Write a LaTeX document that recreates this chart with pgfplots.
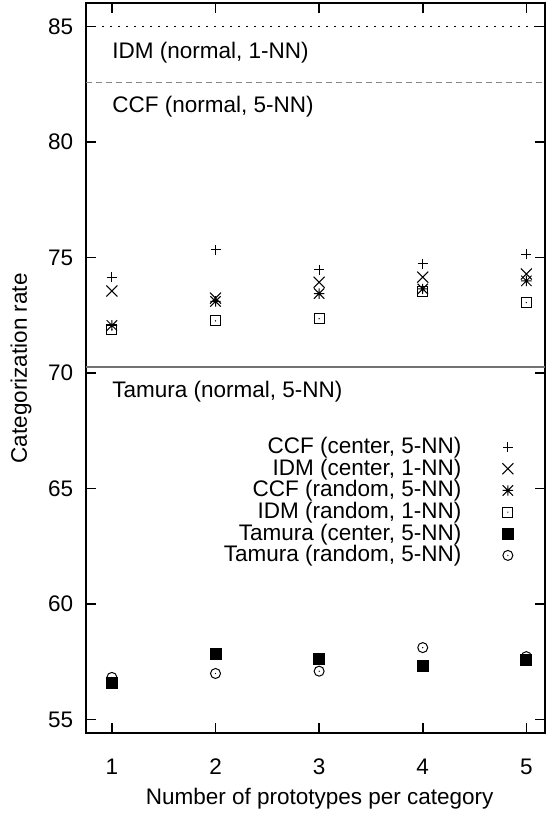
\documentclass[border=0pt]{standalone}
\usepackage{pgfplots}
\pgfplotsset{compat=1.18}
\usepackage{fontspec}
\setmainfont{Liberation Sans}

\pgfdeclareplotmark{gpstar}{%
  \pgfpathmoveto{\pgfqpoint{-\pgfplotmarksize}{0pt}}\pgfpathlineto{\pgfqpoint{\pgfplotmarksize}{0pt}}%
  \pgfpathmoveto{\pgfqpoint{0pt}{-\pgfplotmarksize}}\pgfpathlineto{\pgfqpoint{0pt}{\pgfplotmarksize}}%
  \pgfpathmoveto{\pgfqpoint{-\pgfplotmarksize}{-\pgfplotmarksize}}\pgfpathlineto{\pgfqpoint{\pgfplotmarksize}{\pgfplotmarksize}}%
  \pgfpathmoveto{\pgfqpoint{-\pgfplotmarksize}{\pgfplotmarksize}}\pgfpathlineto{\pgfqpoint{\pgfplotmarksize}{-\pgfplotmarksize}}%
  \pgfusepathqstroke}
\pgfdeclareplotmark{gpboxdot}{%
  \pgfpathrectangle{\pgfqpoint{-\pgfplotmarksize}{-\pgfplotmarksize}}{\pgfqpoint{2\pgfplotmarksize}{2\pgfplotmarksize}}%
  \pgfusepathqstroke
  \pgfpathcircle{\pgfpointorigin}{0.35pt}\pgfusepathqfill}
\pgfdeclareplotmark{gpcircdot}{%
  \pgfpathcircle{\pgfpointorigin}{\pgfplotmarksize}\pgfusepathqstroke
  \pgfpathcircle{\pgfpointorigin}{0.35pt}\pgfusepathqfill}

\begin{document}
\fontsize{11.25bp}{13.5bp}\selectfont
\begin{tikzpicture}
\begin{axis}[name=ax, scale only axis, width=229.5bp, height=364.9bp,
  xmin=0.75, xmax=5.18, ymin=54.4, ymax=86,
  xtick={1,2,3,4,5}, ytick={55,60,65,70,75,80,85},
  tick align=inside, major tick length=5bp,
  axis line style={line width=1bp},
  every tick/.style={black, line width=0.8bp},
  /pgf/number format/assume math mode=true,
  xticklabel style={yshift=-9bp},
  yticklabel style={xshift=-2.5bp},
  xlabel={Number of prototypes per category},
  ylabel={Categorization rate},
  every axis x label/.style={at={(axis description cs:0.509,-0.089)}, anchor=center},
  every axis y label/.style={at={(axis description cs:-0.1416,0.5)}, anchor=center, rotate=90},
  legend style={draw=none, fill=none, at={(rel axis cs:0.945,0.417)}, anchor=north east, row sep=-3bp, column sep=18.5bp},
  legend cell align=right, legend plot pos=right,
  every axis plot/.append style={black, mark options={solid, line width=0.5bp}},
]
\addplot[forget plot, dash pattern=on 1.2bp off 2.8bp, line width=0.6bp, black] coordinates {(0.75,85) (5.18,85)};
\addplot[forget plot, dash pattern=on 3bp off 2bp, line width=0.9bp, black!47] coordinates {(0.75,82.58) (5.18,82.58)};
\addplot[forget plot, solid, line width=1bp, black!55] coordinates {(0.75,70.25) (5.18,70.25)};

\addplot[only marks, mark=+, mark size=2.5bp] coordinates {(1,74.15)(2,75.33)(3,74.47)(4,74.73)(5,75.14)};
\addlegendentry{CCF (center, 5-NN)}
\addplot[only marks, mark=x, mark size=3.9bp] coordinates {(1,73.55)(2,73.24)(3,73.93)(4,74.15)(5,74.29)};
\addlegendentry{IDM (center, 1-NN)}
\addplot[only marks, mark=gpstar, mark size=2.6bp] coordinates {(1,72.06)(2,73.10)(3,73.44)(4,73.64)(5,73.99)};
\addlegendentry{CCF (random, 5-NN)}
\addplot[only marks, mark=gpboxdot, mark size=2.5bp] coordinates {(1,71.87)(2,72.26)(3,72.35)(4,73.53)(5,73.05)};
\addlegendentry{IDM (random, 1-NN)}
\addplot[only marks, mark=square*, mark size=2.75bp] coordinates {(1,56.59)(2,57.82)(3,57.60)(4,57.31)(5,57.58)};
\addlegendentry{Tamura (center, 5-NN)}
\addplot[only marks, mark=gpcircdot, mark size=2.5bp] coordinates {(1,56.82)(2,56.99)(3,57.09)(4,58.11)(5,57.72)};
\addlegendentry{Tamura (random, 5-NN)}

\node[anchor=west, inner sep=0pt] at (axis cs:1,83.87) {IDM (normal, 1-NN)};
\node[anchor=west, inner sep=0pt] at (axis cs:1,81.54) {CCF (normal, 5-NN)};
\node[anchor=west, inner sep=0pt] at (axis cs:1,69.2) {Tamura (normal, 5-NN)};
\end{axis}
\pgfresetboundingbox
\path ([xshift=-43bp,yshift=-40.35bp]ax.south west) rectangle ++(273bp,407bp);
\end{tikzpicture}
\end{document}
